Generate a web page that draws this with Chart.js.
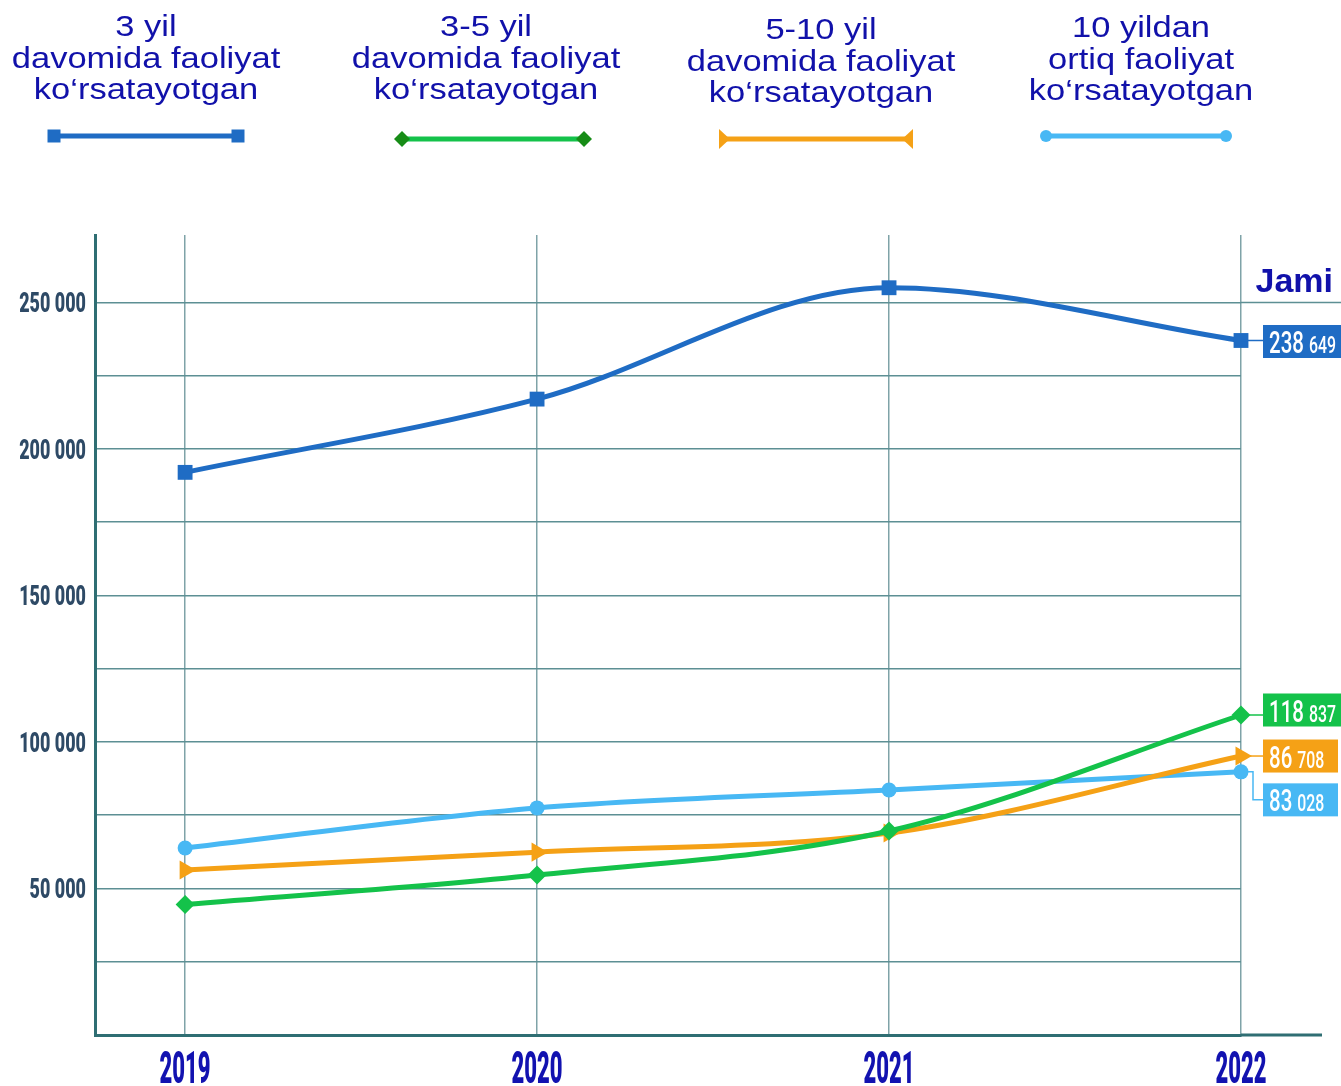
<!DOCTYPE html>
<html>
<head>
<meta charset="utf-8">
<script src="https://cdn.jsdelivr.net/npm/chart.js@4.4.0/dist/chart.umd.min.js"></script>
<style>html,body{margin:0;padding:0;background:#fff}</style>
</head>
<body>
<canvas id="myChart" width="1341" height="1086"></canvas>
<script>
// years on the x axis
const years = [2019, 2020, 2021, 2022]
// values
const upTo3 = [192000, 217000, 255000, 237000]
const from3to5 = [44500, 54600, 69600, 109200]
const from5to10 = [56300, 62400, 68900, 95200]
const over10 = [63800, 77500, 83600, 89800]
// legend captions
const names = [
	['3 yil', 'davomida faoliyat', 'ko‘rsatayotgan'],
	['3-5 yil', 'davomida faoliyat', 'ko‘rsatayotgan'],
	['5-10 yil', 'davomida faoliyat', 'ko‘rsatayotgan'],
	['10 yildan', 'ortiq faoliyat', 'ko‘rsatayotgan']
]
// "Jami" boxes on the right
const totals = [['238', '649'], ['118', '837'], ['86', '708'], ['83', '028']]
const gridValues = [25000, 50000, 75000, 100000, 125000, 150000, 175000, 200000, 225000, 250000]
const yLabels = [50000, 100000, 150000, 200000, 250000]

const colors = ['#1f6cc4', '#14c24a', '#f5a116', '#48b8f4']
const legendMarkColors = ['#1f6cc4', '#178c17', '#f5a116', '#48b8f4']
const styles = ['rect', 'rectRot', 'triangle', 'circle']
const gridColor = '#5d8f94'
const axisColor = '#2f6e73'

function narrow(ctx, text, x, y, font, color, sx, align) {
	ctx.save()
	ctx.font = font
	ctx.fillStyle = color
	ctx.textBaseline = 'alphabetic'
	ctx.textAlign = 'left'
	const w = ctx.measureText(text).width * sx
	const left = align === 'right' ? x - w : align === 'center' ? x - w / 2 : x
	ctx.translate(left, y)
	ctx.scale(sx, 1)
	ctx.fillText(text, 0, 0)
	ctx.restore()
	return w
}

function mark(ctx, style, x, y, r, color, dir) {
	ctx.save()
	ctx.fillStyle = color
	ctx.beginPath()
	if (style === 'rect') {
		ctx.rect(x - r, y - r, 2 * r, 2 * r)
	} else if (style === 'rectRot') {
		ctx.moveTo(x - r, y); ctx.lineTo(x, y - r); ctx.lineTo(x + r, y); ctx.lineTo(x, y + r)
	} else if (style === 'triangle') {
		ctx.moveTo(x, y - r * 1.1); ctx.lineTo(x, y + r * 1.1); ctx.lineTo(x + dir * r * 1.2, y)
	} else {
		ctx.arc(x, y, r, 0, Math.PI * 2)
	}
	ctx.closePath()
	ctx.fill()
	ctx.restore()
}

const extras = {
	id: 'extras',
	afterDraw(chart) {
		const ctx = chart.ctx
		const xs = chart.scales.x
		const ys = chart.scales.y
		const area = chart.chartArea

		// legend
		const centers = [146, 486, 821, 1141]
		const baseShift = [0, 0, 3, 1]
		const lines = [[54, 238, 136], [402, 584, 139], [720, 912, 139], [1046, 1226, 136]]
		names.forEach((rows, i) => {
			rows.forEach((t, j) => narrow(ctx, t, centers[i], 36 + baseShift[i] + j * 31.5,
				'30px "Liberation Sans", Arial, sans-serif', '#1111aa', 1.15, 'center'))
			const [a, b, ly] = lines[i]
			ctx.save()
			ctx.strokeStyle = colors[i]
			ctx.lineWidth = 5
			ctx.beginPath(); ctx.moveTo(a, ly); ctx.lineTo(b, ly); ctx.stroke()
			ctx.restore()
			const r = [6.5, 8, 9, 6][i]
			if (styles[i] === 'triangle') {
				mark(ctx, 'triangle', a - 1, ly, r, legendMarkColors[i], 1)
				mark(ctx, 'triangle', b + 1, ly, r, legendMarkColors[i], -1)
			} else {
				mark(ctx, styles[i], a, ly, r, legendMarkColors[i])
				mark(ctx, styles[i], b, ly, r, legendMarkColors[i])
			}
		})

		// y labels
		yLabels.forEach(v => {
			narrow(ctx, v.toLocaleString('en-US').replace(/,/g, ' '), 86, ys.getPixelForValue(v) + 10,
				'900 28px Roboto, sans-serif', '#2e4a66', 0.64, 'right')
		})
		// x labels
		years.forEach(v => {
			narrow(ctx, String(v), xs.getPixelForValue(v), 1083, '900 44px Roboto, sans-serif', '#1212b0', 0.5, 'center')
		})

		// extended lines
		ctx.save()
		ctx.strokeStyle = gridColor
		ctx.lineWidth = 1.5
		ctx.beginPath()
		const gy = ys.getPixelForValue(250000)
		ctx.moveTo(area.right, gy); ctx.lineTo(1341, gy)
		ctx.stroke()
		ctx.strokeStyle = axisColor
		ctx.lineWidth = 3
		ctx.beginPath()
		ctx.moveTo(area.right, area.bottom); ctx.lineTo(1322, area.bottom)
		ctx.stroke()
		ctx.restore()

		// Jami
		ctx.save()
		ctx.font = 'bold 34px "Liberation Sans", Arial, sans-serif'
		ctx.fillStyle = '#1111aa'
		ctx.textAlign = 'right'
		ctx.fillText('Jami', 1333, 292)
		ctx.restore()

		// value boxes
		const offsets = [1, -5, 0, 28]
		const boxW = [78, 78, 75, 75]
		chart.data.datasets.forEach((ds, i) => {
			const last = chart.getDatasetMeta(i).data[years.length - 1]
			const px = last.x, py = last.y
			const cy = py + offsets[i]
			const top = cy - 16.5
			ctx.save()
			ctx.strokeStyle = colors[i]
			ctx.lineWidth = 1.5
			ctx.beginPath()
			if (i === 3) {
				ctx.moveTo(px, py); ctx.lineTo(1253, py); ctx.lineTo(1253, cy); ctx.lineTo(1263, cy)
			} else {
				ctx.moveTo(px, py); ctx.lineTo(1263, py)
			}
			ctx.stroke()
			ctx.fillStyle = colors[i]
			ctx.fillRect(1263, top, boxW[i], 33)
			ctx.restore()
			const w = narrow(ctx, totals[i][0], 1269, top + 28, '500 32px Roboto, sans-serif', '#ffffff', 0.64, 'left')
			narrow(ctx, totals[i][1], 1269 + w + 5, top + 28, '500 24px Roboto, sans-serif', '#ffffff', 0.66, 'left')
		})
	}
}

const seriesData = [upTo3, from3to5, from5to10, over10]
const radii = [10.5, 9.5, 11, 7.5]

new Chart(document.getElementById('myChart').getContext('2d'), {
	type: 'line',
	data: {
		datasets: seriesData.map((vals, i) => ({
			label: names[i].join(' '),
			data: years.map((y, k) => ({ x: y, y: vals[k] })),
			borderColor: colors[i],
			backgroundColor: colors[i],
			borderWidth: 5,
			pointStyle: styles[i],
			pointRadius: radii[i],
			pointRotation: i === 2 ? 90 : 0,
			pointBorderWidth: 0,
			cubicInterpolationMode: 'monotone',
			clip: false
		}))
	},
	options: {
		responsive: false,
		animation: false,
		devicePixelRatio: 1,
		layout: { padding: { left: 95, top: 235, right: 100, bottom: 51 } },
		plugins: { legend: { display: false }, tooltip: { enabled: false } },
		scales: {
			x: {
				type: 'linear',
				min: 2018.744,
				max: 2022,
				afterBuildTicks: (s) => { s.ticks = years.map(v => ({ value: v })) },
				ticks: { display: false },
				grid: { color: '#7fa3a8', lineWidth: 1.5, drawTicks: false },
				border: { display: true, color: axisColor, width: 3 }
			},
			y: {
				type: 'linear',
				min: 0,
				max: 273000,
				afterBuildTicks: (s) => { s.ticks = gridValues.map(v => ({ value: v })) },
				ticks: { display: false },
				grid: { color: gridColor, lineWidth: 1.5, drawTicks: false },
				border: { display: true, color: axisColor, width: 3 }
			}
		}
	},
	plugins: [extras]
})
</script>
</body>
</html>
